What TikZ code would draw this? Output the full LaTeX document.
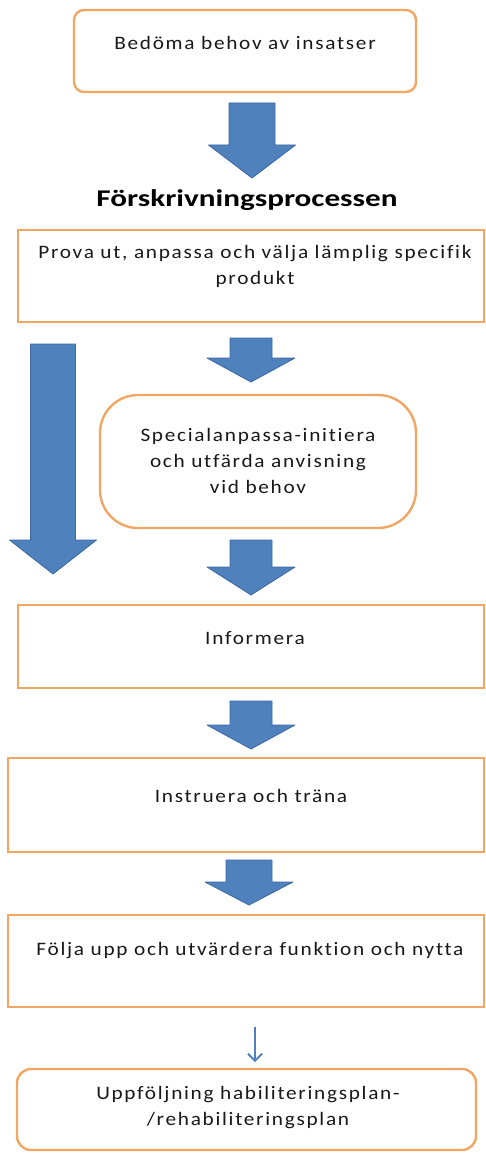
\documentclass[tikz,border=0pt]{standalone}
\usepackage{fontspec}
\usetikzlibrary{arrows.meta}
\setmainfont{Carlito}
\newfontfamily\boxfont[LetterSpace=9,FakeStretch=1.12,Ligatures=NoCommon]{Carlito}
\newfontfamily\titlefont[FakeStretch=1.3,Ligatures=NoCommon]{Carlito}
\definecolor{boxorange}{HTML}{F2A664}
\definecolor{arrowblue}{HTML}{4F81BD}
\definecolor{arrowedge}{HTML}{3C68A2}
\newcommand{\blockarrow}[7]{% name, cx, top, head y, tip, shaft half, head half
  \coordinate (#1top) at ({#2},{#3});
  \coordinate (#1tip) at ({#2},{#5});
  \filldraw[blockarr] ({#2-#6},{#3}) -- ({#2+#6},{#3}) -- ({#2+#6},{#4}) -- ({#2+#7},{#4})
    -- (#1tip) -- ({#2-#7},{#4}) -- ({#2-#6},{#4}) -- cycle;}
\begin{document}
\begin{tikzpicture}[x=1pt,y=-1pt,
  boxstyle/.style={draw=boxorange, line width=2.4pt, fill=white},
  txt/.style={align=center, text=black!90, font=\boxfont\fontsize{19}{26}\selectfont, inner sep=0pt},
  blockarr/.style={fill=arrowblue, draw=arrowedge, line width=0.8pt, line join=round}]
\useasboundingbox (0,0) rectangle (486,1155);
\clip (0,0) rectangle (486,1155);
% boxes
\draw[boxstyle, rounded corners=10pt] (74,10) rectangle (416,92);
\node[txt] (t1) at (245,43) {Bedöma behov av insatser};
\blockarrow{a1}{252}{103}{145}{178}{23}{43.5}
\node[font=\titlefont\bfseries\fontsize{24}{28}\selectfont, inner sep=0pt] (title) at (247,200) {Förskrivningsprocessen};
\draw[boxstyle] (18,230) rectangle (484,322);
\node[txt] (t2) at (255,266.5) {Prova ut, anpassa och välja lämplig specifik\\produkt};
\blockarrow{a0}{53}{344}{540}{574}{22.5}{43.5}
\blockarrow{a2}{251}{338}{358}{382}{21}{44}
\draw[boxstyle, rounded corners=38pt] (100,395) rectangle (416,528);
\node[txt] (t3) at (258,461) {Specialanpassa-initiera\\och utfärda anvisning\\vid behov};
\blockarrow{a3}{251}{540}{567}{595}{21}{44}
\draw[boxstyle] (18,605) rectangle (484,688);
\node[txt] (t4) at (255,638) {Informera};
\blockarrow{a4}{251}{701}{725}{749}{21}{44}
\draw[boxstyle] (8,758) rectangle (484,852);
\node[txt] (t5) at (251,796) {Instruera och träna};
\blockarrow{a5}{249}{860}{882}{905}{23}{44}
\draw[boxstyle] (8,915) rectangle (484,1007);
\node[txt] (t6) at (250,951) {Följa upp och utvärdera funktion och nytta};
\coordinate (s1) at (255,1027);
\coordinate (s2) at (255,1062);
\draw[arrowblue, line width=1.8pt, -{Straight Barb[length=7pt,width=14pt]}] (s1) -- (s2);
\draw[boxstyle, rounded corners=14pt] (17,1069) rectangle (476,1150);
\node[txt] (t7) at (248,1107.5) {Uppföljning habiliteringsplan-\\/rehabiliteringsplan};
\end{tikzpicture}
\end{document}
